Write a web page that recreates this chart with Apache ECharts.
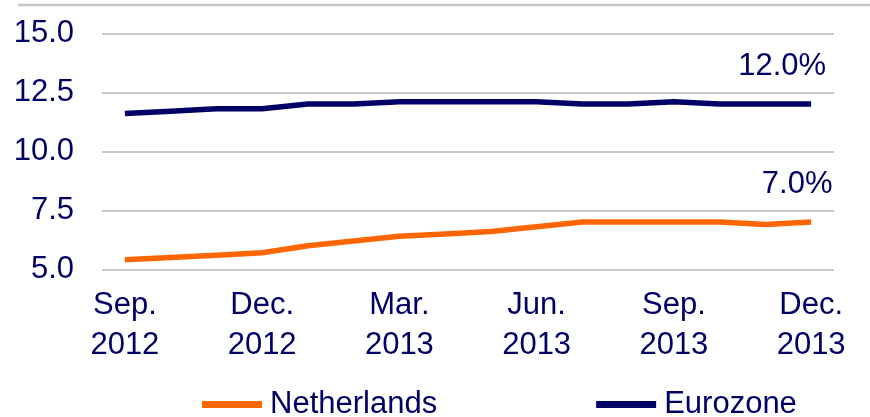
<!DOCTYPE html>
<html>
<head>
<meta charset="utf-8">
<script src="https://cdn.jsdelivr.net/npm/echarts@6/dist/echarts.min.js"></script>
<style>html,body{margin:0;padding:0;background:#fff;}#c{width:870px;height:417px;}</style>
</head>
<body>
<div id="c"></div>
<script>
var categories = ['Sep.\n2012','Oct.\n2012','Nov.\n2012','Dec.\n2012','Jan.\n2013','Feb.\n2013','Mar.\n2013','Apr.\n2013','May\n2013','Jun.\n2013','Jul.\n2013','Aug.\n2013','Sep.\n2013','Oct.\n2013','Nov.\n2013','Dec.\n2013'];
var netherlands = [5.4,5.5,5.6,5.7,6.0,6.2,6.4,6.5,6.6,6.8,7.0,7.0,7.0,7.0,6.9,7.0];
var eurozone = [11.6,11.7,11.8,11.8,12.0,12.0,12.1,12.1,12.1,12.1,12.0,12.0,12.1,12.0,12.0,12.0];
var seriesNames = ['Netherlands','Eurozone'];

var FONT = 'Liberation Sans, Arial, sans-serif';
var TXT = '#000066';
var FS = 31;

function endLabel(dx) {
  return {
    show: true,
    align: 'center',
    verticalAlign: 'middle',
    distance: 0,
    offset: [dx, -38],
    formatter: function (p) { return Number(p.value).toFixed(1) + '%'; },
    color: TXT, fontSize: FS, fontFamily: FONT
  };
}

var chart = echarts.init(document.getElementById('c'), null, {renderer: 'canvas'});
chart.setOption({
  animation: false,
  backgroundColor: '#fff',
  graphic: [{
    type: 'line', shape: {x1: 18, y1: 5, x2: 870, y2: 5},
    style: {stroke: '#c8c8c8', lineWidth: 2.5}, silent: true
  }],
  grid: {left: 102, right: 36, top: 33.3, bottom: 147.7, containLabel: false},
  legend: {
    left: 197, top: 384,
    itemWidth: 60, itemHeight: 7, itemGap: 159,
    icon: 'rect',
    textStyle: {color: TXT, fontSize: FS, fontFamily: FONT, padding: [0, 0, 0, 3]},
    data: seriesNames
  },
  xAxis: {
    type: 'category', data: categories, boundaryGap: true,
    axisLine: {show: false}, axisTick: {show: false},
    axisLabel: {interval: 2, color: TXT, fontSize: FS, fontFamily: FONT, lineHeight: 40, margin: 16}
  },
  yAxis: {
    type: 'value', min: 5, max: 15, interval: 2.5,
    axisLine: {show: false}, axisTick: {show: false},
    axisLabel: {color: TXT, fontSize: FS, fontFamily: FONT, margin: 28,
      formatter: function (v) { return v.toFixed(1); }},
    splitLine: {lineStyle: {color: '#c8c8c8', width: 2}}
  },
  series: [
    {name: seriesNames[0], type: 'line', data: netherlands, symbol: 'none',
     lineStyle: {color: '#ff6600', width: 5.5}, itemStyle: {color: '#ff6600'},
     endLabel: endLabel(-14)},
    {name: seriesNames[1], type: 'line', data: eurozone, symbol: 'none',
     lineStyle: {color: '#000066', width: 5.5}, itemStyle: {color: '#000066'},
     endLabel: endLabel(-29)}
  ]
});
</script>
</body>
</html>
